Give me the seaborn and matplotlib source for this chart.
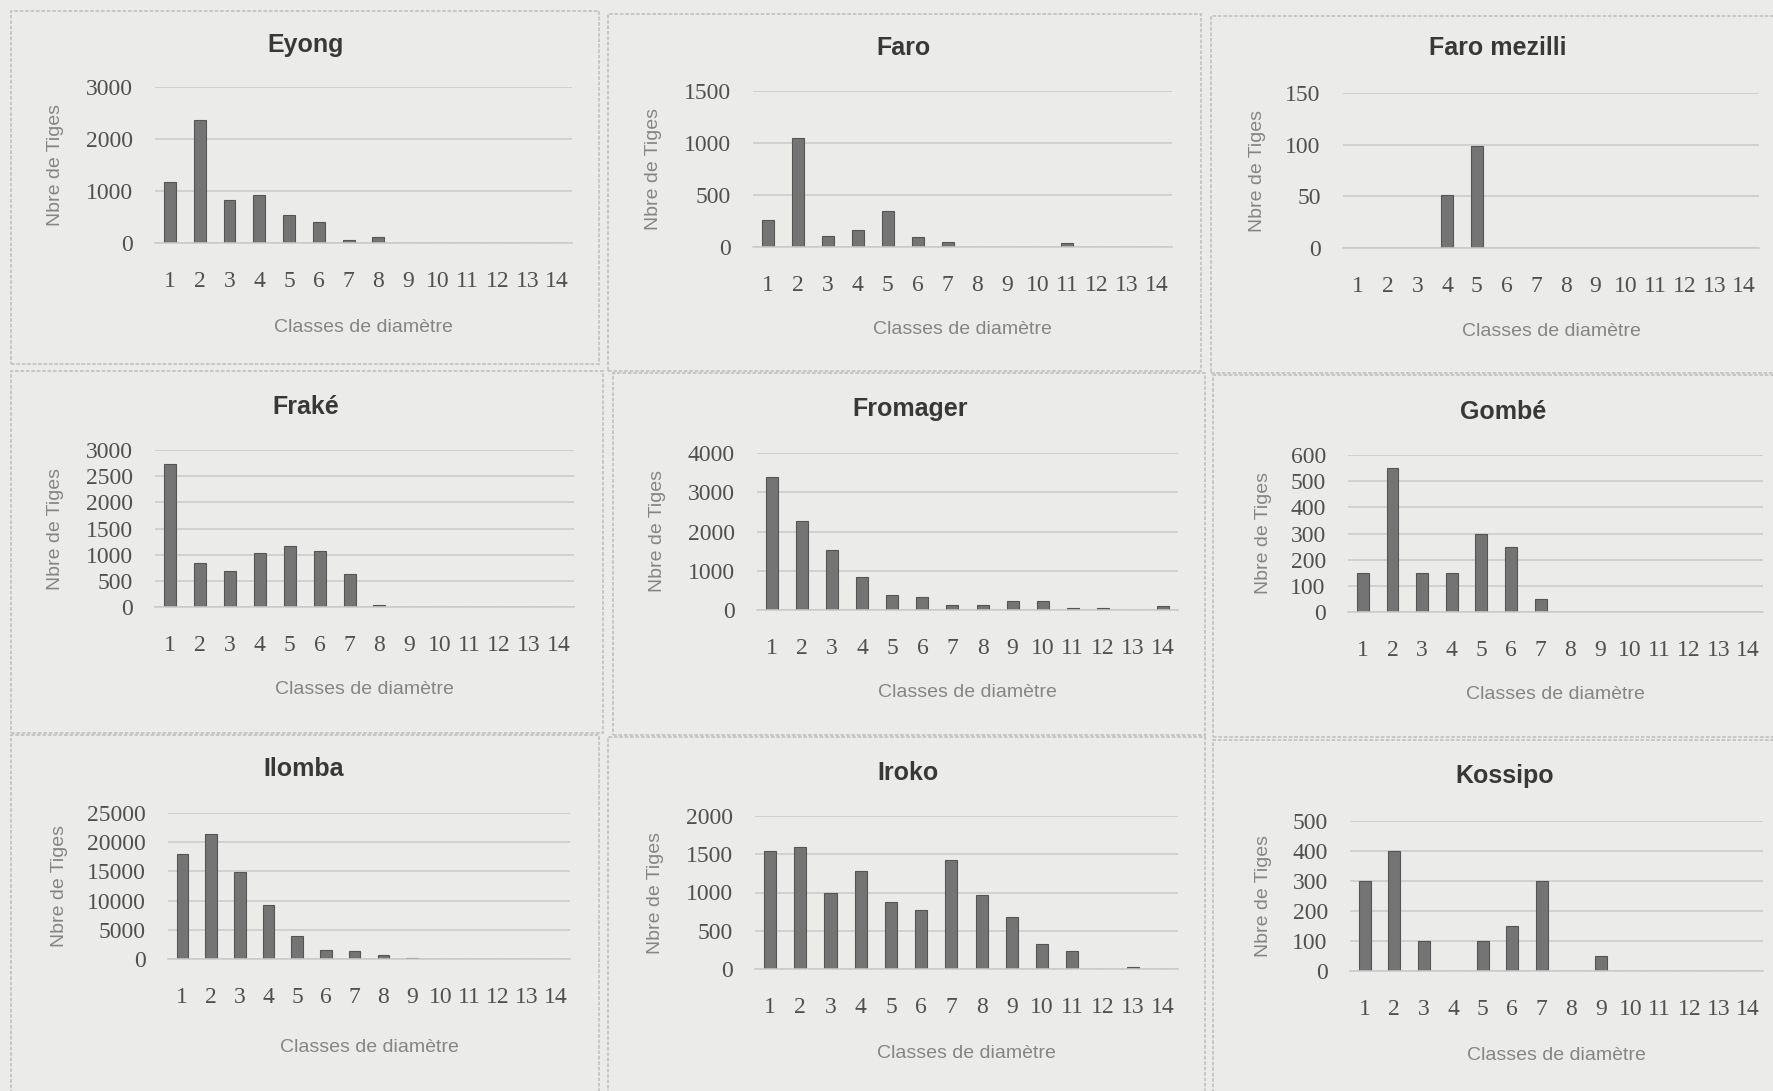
import numpy as np
import matplotlib
matplotlib.use("Agg")
import matplotlib.pyplot as plt
from matplotlib.patches import Rectangle
import seaborn as sns

# Diameter classes shared by every species panel
classes = [str(i) for i in range(1, 15)]

# Stem counts per diameter class, one list per species
eyong = [1180, 2370, 820, 920, 530, 410, 60, 110, 0, 0, 0, 0, 0, 0]
faro = [260, 1045, 110, 160, 345, 100, 50, 0, 0, 0, 40, 0, 0, 0]
faro_mezilli = [0, 0, 0, 51, 99, 0, 0, 0, 0, 0, 0, 0, 0, 0]
frake = [2730, 850, 690, 1040, 1170, 1070, 640, 30, 0, 0, 0, 0, 0, 0]
fromager = [3390, 2270, 1540, 830, 390, 320, 130, 130, 220, 220, 40, 50, 0, 100]
gombe = [150, 550, 150, 150, 300, 250, 50, 0, 0, 0, 0, 0, 0, 0]
ilomba = [17900, 21400, 14900, 9250, 4000, 1600, 1400, 600, 200, 0, 0, 0, 0, 0]
iroko = [1540, 1590, 990, 1280, 880, 770, 1420, 970, 680, 330, 230, 0, 20, 0]
kossipo = [300, 400, 100, 0, 100, 150, 300, 0, 50, 0, 0, 0, 0, 0]

titles = ["Eyong", "Faro", "Faro mezilli", "Fraké", "Fromager", "Gombé",
          "Ilomba", "Iroko", "Kossipo"]
series = [eyong, faro, faro_mezilli, frake, fromager, gombe, ilomba, iroko, kossipo]
y_max = [3000, 1500, 150, 3000, 4000, 600, 25000, 2000, 500]
y_step = [1000, 500, 50, 500, 1000, 100, 5000, 500, 100]

W, H = 1773, 1091

# Layout in pixels: plot box (left, zero-line y, right, top y), panel frame,
# title centre, y-label centre x, x-label centre y
plot_boxes = [
    (155, 243, 572, 87), (753, 247, 1172, 91), (1343, 248, 1759, 93),
    (155, 607, 574, 450), (757, 610, 1178, 453), (1348, 612, 1763, 455),
    (168, 959, 570, 813), (755, 969, 1178, 816), (1350, 971, 1763, 821),
]
frames = [
    (11, 11, 599, 364), (608, 14, 1201, 371), (1211, 16, 1790, 373),
    (11, 371, 603, 733), (613, 373, 1205, 735), (1213, 375, 1790, 737),
    (11, 735, 599, 1100), (608, 737, 1205, 1100), (1213, 740, 1790, 1100),
]
title_pos = [(306, 45), (904, 48), (1498, 48), (306, 407), (910, 409),
             (1503, 412), (304, 769), (908, 773), (1505, 776)]
ylabel_x = [55, 654, 1258, 55, 657, 1264, 59, 655, 1264]
xlabel_y = [328, 330, 332, 690, 693, 695, 1047, 1053, 1055]

paper = "#ebebea"
bar_color = "#747474"
grid_color = "#cacaca"

sns.set_theme(style="white")
plt.rcParams["font.family"] = ["Liberation Sans", "DejaVu Sans"]

fig = plt.figure(figsize=(W / 100, H / 100), dpi=100, facecolor=paper)

for (fx0, fy0, fx1, fy1) in frames:
    fig.patches.append(Rectangle((fx0 / W, 1 - fy1 / H), (fx1 - fx0) / W, (fy1 - fy0) / H,
                                 transform=fig.transFigure, fill=False,
                                 edgecolor="#c4c4c4", linewidth=1.3, linestyle=(0, (2, 1))))

for i in range(9):
    l, b, r, t = plot_boxes[i]
    ax = fig.add_axes([l / W, 1 - b / H, (r - l) / W, (b - t) / H])
    ax.set_facecolor("none")
    sns.barplot(x=classes, y=series[i], order=classes, color=bar_color,
                width=0.4, saturation=1, edgecolor="#555555", linewidth=0.8, ax=ax)
    ax.set_xlim(-0.5, 13.5)
    ax.set_ylim(0, y_max[i])
    ax.set_yticks(np.arange(0, y_max[i] + 1, y_step[i]))
    ax.yaxis.grid(True, color=grid_color, linewidth=1.1)
    ax.xaxis.grid(False)
    ax.set_axisbelow(True)
    for side in ["top", "right", "left"]:
        ax.spines[side].set_visible(False)
    ax.spines["bottom"].set_color(grid_color)
    ax.spines["bottom"].set_linewidth(1.1)
    ax.tick_params(axis="x", length=0, pad=20, labelsize=17, labelcolor="#505050")
    ax.tick_params(axis="y", length=0, pad=16, labelsize=17, labelcolor="#505050")
    for lab in ax.get_xticklabels() + ax.get_yticklabels():
        lab.set_family(["Liberation Serif", "DejaVu Serif"])

    ax.set_ylabel("Nbre de Tiges", fontsize=14, color="#858585")
    ax.yaxis.set_label_coords((ylabel_x[i] - l) / (r - l), 0.5)
    ax.yaxis.label.set_va("center")
    ax.set_xlabel("Classes de diamètre", fontsize=14, color="#858585")
    ax.xaxis.set_label_coords(0.5, -(xlabel_y[i] - b) / (b - t))
    ax.xaxis.label.set_va("center")

    tx, ty = title_pos[i]
    fig.text(tx / W, 1 - ty / H, titles[i], ha="center", va="center",
             fontsize=18, fontweight="bold", color="#383838")

fig.savefig("out.png", dpi=100, facecolor=paper)
